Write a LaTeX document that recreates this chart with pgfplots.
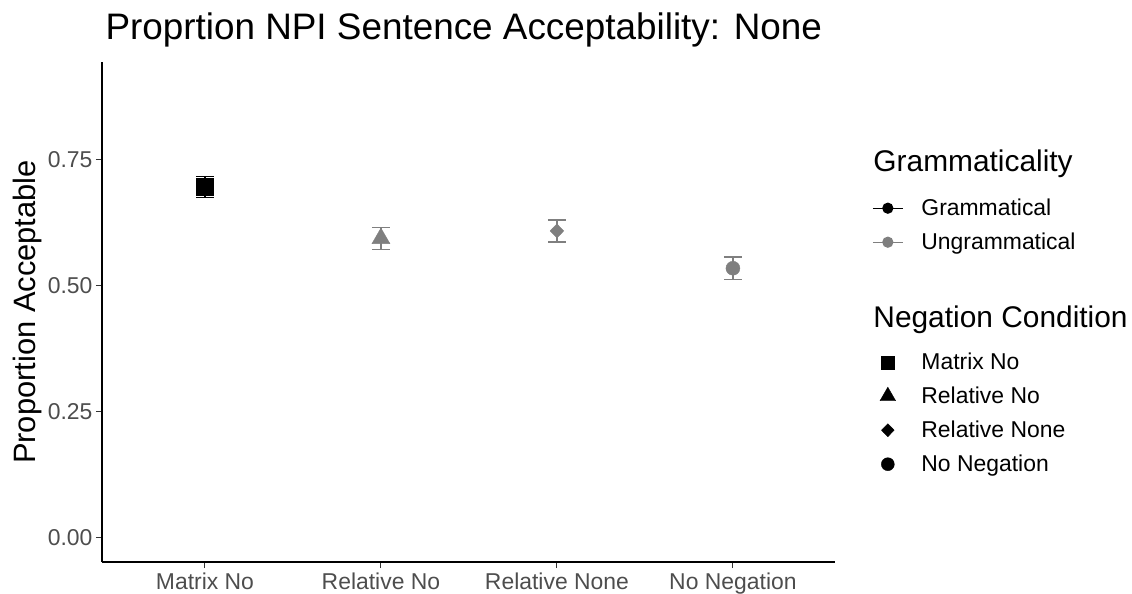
\documentclass[border=0pt]{standalone}
\usepackage{pgfplots}
\pgfplotsset{compat=1.18}
\usepackage{fontspec}
\setmainfont{Liberation Sans}
\definecolor{ggrey}{RGB}{127,127,127}
\definecolor{ticklab}{RGB}{77,77,77}
\definecolor{tickcol}{RGB}{51,51,51}

\pgfplotsset{
  keyline/.style={legend image code/.code={%
    \draw[##1, mark repeat=2, mark phase=2] plot coordinates {(0bp,0bp) (15bp,0bp) (30bp,0bp)};}},
  keymark/.style={legend image code/.code={%
    \draw[##1, only marks] plot coordinates {(15bp,0bp)};}},
}
\tikzset{ent/.style={text height=24bp, text depth=10bp}}

\begin{document}
\begin{tikzpicture}
\useasboundingbox (-102bp,-32bp) rectangle (1030bp,562bp);
\begin{axis}[
  at={(0,0)}, anchor=south west,
  scale only axis, width=733bp, height=500bp,
  xmin=0.415, xmax=4.58, ymin=-0.0476, ymax=0.944,
  axis x line=bottom, axis y line=left,
  axis line style={-, black, line width=1.2bp},
  xtick={1,2,3,4},
  xticklabels={Matrix No, Relative No, Relative None, No Negation},
  ytick={0,0.25,0.5,0.75},
  yticklabel style={/pgf/number format/.cd, fixed, fixed zerofill, precision=2},
  /pgf/number format/assume math mode=true,
  tick align=outside, major tick length=6bp,
  tick style={tickcol, line width=1bp},
  tick label style={font=\fontsize{23}{27}\selectfont, text=ticklab},
  xticklabel style={yshift=-1bp},
  ylabel={Proportion Acceptable},
  every axis y label/.style={at={(axis description cs:-0.102,0.5)}, rotate=90, anchor=center,
    font=\fontsize{31}{36}\selectfont},
  title={Proprtion NPI Sentence Acceptability: None},
  title style={at={(axis description cs:0,1)}, anchor=base west, yshift=17bp,
    font=\fontsize{37}{42}\selectfont},
  legend style={draw=none, fill=none, at={(rel axis cs:1.0505,0.83)}, anchor=north west,
    font=\fontsize{23}{27}\selectfont, inner sep=0pt, row sep=0pt,
    nodes={inner sep=0pt, text=black},
    /tikz/every odd column/.append style={column sep=18bp}},
  legend cell align=left,
]

\addlegendimage{empty legend}
\addlegendentry[text height=24bp, text depth=20bp]{\hspace*{-48bp}\fontsize{30}{34}\selectfont Grammaticality}
\addlegendimage{keyline, black, line width=1.2bp, mark=*, mark size=5bp}
\addlegendentry[ent]{Grammatical}
\addlegendimage{keyline, ggrey, line width=1.2bp, mark=*, mark size=5bp}
\addlegendentry[ent]{Ungrammatical}
\addlegendimage{empty legend}
\addlegendentry[text height=68bp, text depth=18bp]{\hspace*{-48bp}\fontsize{30}{34}\selectfont Negation Condition}
\addlegendimage{keymark, black, mark=square*, mark size=6.5bp}
\addlegendentry[ent]{Matrix No}
\addlegendimage{keymark, black, mark=triangle*, mark size=9bp}
\addlegendentry[ent]{Relative No}
\addlegendimage{keymark, black, mark=diamond*, mark size=6.5bp, mark options={xscale=1.3}}
\addlegendentry[ent]{Relative None}
\addlegendimage{keymark, black, mark=*, mark size=6.5bp}
\addlegendentry[ent]{No Negation}

% Matrix No (grammatical)
\addplot[forget plot, black, only marks, mark=square*, mark size=8.5bp,
  error bars/.cd, y dir=both, y explicit,
  error bar style={line width=1.5bp, black},
  error mark options={rotate=90, mark size=9bp, line width=1.5bp, black}]
  coordinates {(1,0.696) +- (0,0.0205)};
% Relative No
\addplot[forget plot, ggrey, only marks, mark=triangle*, mark size=10.4bp,
  error bars/.cd, y dir=both, y explicit,
  error bar style={line width=1.5bp, ggrey},
  error mark options={rotate=90, mark size=9bp, line width=1.5bp, ggrey}]
  coordinates {(2,0.594) +- (0,0.022)};
% Relative None
\addplot[forget plot, ggrey, only marks, mark=diamond*, mark size=7bp,
  mark options={xscale=1.3},
  error bars/.cd, y dir=both, y explicit,
  error bar style={line width=1.5bp, ggrey},
  error mark options={rotate=90, mark size=9bp, line width=1.5bp, ggrey}]
  coordinates {(3,0.609) +- (0,0.022)};
% No Negation
\addplot[forget plot, ggrey, only marks, mark=*, mark size=7bp,
  error bars/.cd, y dir=both, y explicit,
  error bar style={line width=1.5bp, ggrey},
  error mark options={rotate=90, mark size=9bp, line width=1.5bp, ggrey}]
  coordinates {(4,0.535) +- (0,0.022)};

\end{axis}
\end{tikzpicture}
\end{document}
